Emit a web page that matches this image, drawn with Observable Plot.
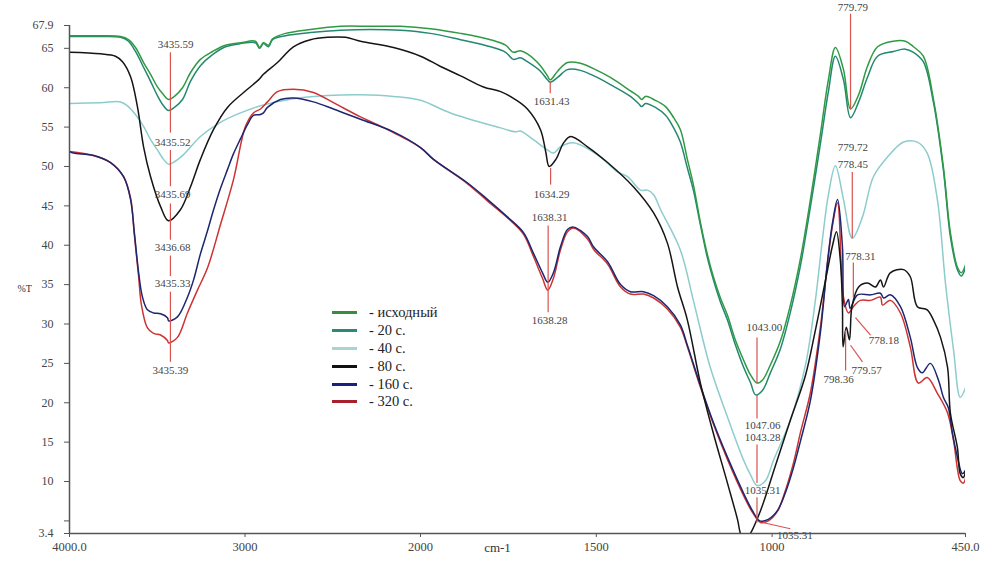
<!DOCTYPE html>
<html>
<head>
<meta charset="utf-8">
<script src="https://cdn.jsdelivr.net/npm/d3@7"></script>
<script src="https://cdn.jsdelivr.net/npm/@observablehq/plot@0.6"></script>
<style>
  html, body { margin: 0; padding: 0; background: #fff; overflow: hidden; }
  #wrap { position: relative; width: 985px; height: 566px; }
  #legend { position: absolute; left: 332px; top: 304px; font-family: "Times New Roman", "Liberation Serif", "DejaVu Serif", serif; font-size: 14.5px; color: #222; }
  #legend .row { display: flex; align-items: center; height: 17.8px; }
  #legend .sw { width: 25px; height: 3px; margin-right: 12px; }
</style>
</head>
<body>
<div id="wrap"><div id="legend"></div></div>
<script>
// ---- data: wavenumber (cm-1), transmittance (%T) ----
const seriesNames = ["- исходный", "- 20 с.", "- 40 с.", "- 80 с.", "- 160 с.", "- 320 с."];
const seriesColors = ["#2f9a44", "#23886f", "#8dcccc", "#151515", "#1d2670", "#cc3333"];
const legendColors = ["#3a8c3f", "#2a8a78", "#a8d4d4", "#111111", "#1a2080", "#a8202c"];

const sInitial = [[4000,66.6],[3823,66.6],[3709,66.5],[3664,66.1],[3624,65.1],[3578,63.2],[3538,61.7],[3499,60.1],[3464,59.1],[3436,58.5],[3402,58.9],[3356,60.0],[3311,61.9],[3254,63.6],[3185,64.6],[3111,65.4],[3026,65.7],[2940,65.9],[2917,65.1],[2895,65.7],[2866,65.4],[2843,66.2],[2769,66.9],[2627,67.4],[2456,67.8],[2285,67.8],[2114,67.8],[1972,67.5],[1886,66.9],[1801,66.1],[1758,65.4],[1736,64.5],[1716,64.7],[1696,64.3],[1659,62.8],[1639,61.5],[1631,61.0],[1610,62.1],[1582,63.2],[1545,63.1],[1502,62.3],[1460,61.3],[1403,59.6],[1380,58.9],[1371,58.5],[1360,58.9],[1332,58.4],[1303,57.6],[1280,56.2],[1261,54.7],[1241,50.9],[1224,47.7],[1204,42.9],[1184,38.8],[1167,36.0],[1147,33.3],[1127,31.1],[1104,27.9],[1081,25.4],[1061,23.5],[1043,22.5],[1027,22.9],[1005,24.8],[976,27.9],[948,32.4],[919,38.4],[891,45.8],[863,54.0],[840,61.0],[820,65.1],[797,62.3],[777,57.3],[754,59.1],[729,62.7],[700,65.2],[655,65.9],[621,65.9],[598,65.2],[570,64.0],[541,58.5],[513,50.0],[493,41.6],[473,37.2],[462,36.5],[450,37.5]];

const s20 = [[4000,66.5],[3823,66.5],[3709,66.4],[3664,65.9],[3624,64.6],[3578,62.6],[3538,60.8],[3499,59.0],[3464,57.7],[3436,57.1],[3402,57.5],[3356,58.5],[3311,60.8],[3254,62.8],[3185,64.2],[3111,65.2],[3026,65.6],[2940,65.7],[2917,65.0],[2895,65.6],[2866,65.2],[2843,66.1],[2769,66.6],[2627,67.0],[2456,67.3],[2285,67.4],[2114,67.3],[1972,66.9],[1886,66.1],[1801,65.2],[1758,64.5],[1736,63.6],[1716,63.8],[1696,63.3],[1659,62.1],[1639,61.0],[1631,60.7],[1610,61.3],[1582,62.3],[1545,62.2],[1502,61.4],[1460,60.4],[1403,58.9],[1380,58.0],[1371,57.6],[1360,58.0],[1332,57.5],[1303,56.5],[1280,54.9],[1261,53.1],[1241,49.8],[1224,47.0],[1204,42.6],[1184,38.4],[1167,35.6],[1147,32.8],[1127,30.5],[1104,27.3],[1081,24.5],[1061,22.5],[1047,21.0],[1027,21.6],[1005,23.8],[976,26.9],[948,31.5],[919,37.5],[891,44.9],[863,52.8],[840,59.5],[820,64.0],[797,61.0],[777,56.2],[754,58.2],[729,61.3],[700,64.0],[655,64.6],[621,64.9],[598,64.5],[570,63.3],[541,58.1],[513,49.6],[493,41.1],[473,36.9],[462,36.1],[450,37.1]];

const s40 = [[4000,58.0],[3823,58.1],[3709,58.2],[3670,57.7],[3624,56.6],[3578,55.1],[3538,53.4],[3499,52.1],[3464,50.9],[3436,50.3],[3402,50.6],[3350,51.5],[3254,53.8],[3140,55.6],[3026,56.8],[2912,57.7],[2724,58.6],[2530,59.0],[2342,59.1],[2154,58.9],[2000,58.4],[1915,56.8],[1772,54.9],[1730,54.4],[1716,54.5],[1679,53.4],[1639,52.1],[1622,51.7],[1602,52.5],[1565,53.0],[1488,51.2],[1440,49.3],[1411,48.7],[1374,47.0],[1354,47.0],[1337,46.4],[1317,44.5],[1261,39.4],[1224,33.0],[1176,24.5],[1127,18.2],[1081,12.7],[1061,10.8],[1043,9.5],[1019,10.1],[996,12.7],[948,17.8],[905,24.8],[877,33.0],[857,40.7],[840,46.4],[820,50.1],[797,45.8],[772,40.9],[743,43.6],[712,48.7],[672,51.2],[626,53.1],[587,53.1],[559,51.7],[530,45.8],[507,35.2],[484,26.7],[465,20.7],[450,21.9]];

const s80 = [[4000,64.5],[3823,64.3],[3738,64.0],[3698,63.3],[3652,61.4],[3613,57.6],[3578,52.5],[3538,48.7],[3481,44.9],[3436,43.1],[3368,44.5],[3311,47.4],[3254,50.9],[3179,54.7],[3100,57.5],[2986,59.8],[2923,61.0],[2895,61.7],[2815,63.2],[2724,65.2],[2627,66.1],[2530,66.4],[2427,66.4],[2342,65.9],[2154,65.1],[2000,64.0],[1943,62.7],[1886,61.5],[1821,60.1],[1772,59.5],[1730,58.5],[1696,57.3],[1659,54.7],[1644,51.9],[1634,50.0],[1615,50.9],[1593,53.0],[1573,53.8],[1525,52.5],[1468,50.5],[1394,47.4],[1337,44.1],[1298,40.3],[1269,34.7],[1241,30.5],[1204,22.5],[1167,16.1],[1127,9.8],[1098,5.1],[1090,3.4],[1078,2.5],[1067,3.0],[1033,6.3],[990,12.1],[948,17.8],[905,23.5],[877,29.2],[848,35.6],[828,40.0],[817,41.7],[806,38.1],[800,32.2],[798,27.1],[789,29.6],[780,28.0],[773,32.2],[754,34.7],[729,35.2],[706,34.7],[692,35.6],[683,34.7],[664,36.5],[626,36.9],[607,36.0],[587,32.2],[559,31.8],[541,30.5],[521,28.3],[501,24.5],[493,18.7],[473,14.3],[465,11.0],[456,10.5],[450,11.4]];

const s160 = [[4000,51.9],[3977,51.7],[3863,51.4],[3766,50.5],[3692,48.7],[3652,45.8],[3630,41.5],[3606,36.5],[3584,33.4],[3556,31.8],[3521,31.4],[3481,31.3],[3442,30.8],[3435,30.4],[3385,30.9],[3328,33.4],[3293,35.6],[3254,38.9],[3214,41.8],[3179,44.5],[3140,47.2],[3100,49.6],[3066,51.6],[3026,53.5],[2986,55.3],[2952,56.5],[2912,56.6],[2895,56.8],[2872,57.5],[2798,58.5],[2724,58.7],[2610,58.2],[2496,57.3],[2342,56.0],[2154,54.4],[2000,52.4],[1963,50.9],[1866,47.9],[1809,45.8],[1753,43.6],[1707,41.6],[1679,39.0],[1653,36.5],[1638,35.3],[1622,36.5],[1602,39.8],[1582,42.0],[1565,42.3],[1525,41.1],[1508,39.8],[1468,37.9],[1431,35.0],[1403,34.1],[1366,34.1],[1337,33.6],[1298,32.2],[1261,29.9],[1241,27.3],[1204,22.2],[1167,17.5],[1127,13.1],[1081,8.5],[1056,6.3],[1035,5.0],[1011,5.2],[985,6.3],[962,8.6],[939,11.8],[919,15.2],[891,20.3],[863,28.8],[842,38.1],[828,42.9],[814,45.8],[800,39.8],[794,32.2],[783,33.1],[778,32.0],[757,33.7],[720,33.7],[692,33.9],[683,33.3],[664,33.7],[635,32.2],[607,28.3],[587,24.5],[573,23.8],[550,25.0],[527,22.9],[513,20.7],[499,19.4],[487,16.1],[473,13.1],[459,11.0],[450,11.4]];

const s320 = [[4000,51.9],[3863,51.4],[3766,50.5],[3692,48.7],[3652,46.0],[3630,41.2],[3606,36.0],[3590,32.4],[3556,29.5],[3521,28.8],[3481,28.6],[3442,27.9],[3435,27.6],[3385,28.3],[3328,31.4],[3271,34.3],[3214,37.1],[3140,42.6],[3066,48.3],[2997,55.1],[2952,56.8],[2912,57.3],[2872,58.2],[2815,59.5],[2724,59.8],[2610,59.4],[2496,58.1],[2342,56.3],[2245,55.3],[2154,54.3],[2000,52.4],[1963,50.9],[1866,47.8],[1809,45.6],[1753,43.5],[1707,41.4],[1679,38.6],[1653,35.8],[1638,34.3],[1622,35.8],[1602,39.4],[1582,41.7],[1565,42.2],[1525,40.8],[1508,39.5],[1468,37.6],[1431,34.7],[1403,33.8],[1366,33.8],[1337,33.3],[1298,31.9],[1261,29.6],[1241,27.1],[1204,22.0],[1167,17.3],[1127,12.8],[1081,8.2],[1056,6.1],[1033,4.8],[1011,5.0],[985,6.2],[962,8.9],[939,12.4],[919,16.3],[891,21.3],[863,29.5],[842,37.9],[828,42.6],[814,45.4],[797,33.4],[783,31.4],[769,32.2],[749,33.0],[720,33.0],[692,33.4],[686,32.4],[664,33.0],[635,31.4],[607,27.1],[584,22.5],[559,23.2],[530,21.2],[501,18.7],[484,15.2],[465,10.1],[456,9.8],[450,10.4]];

const allSeries = [s40, s20, sInitial, s320, s160, s80];
const drawColors = [seriesColors[2], seriesColors[1], seriesColors[0], seriesColors[5], seriesColors[4], seriesColors[3]];

// axis ticks
const wnTicks = [4000, 3000, 2000, 1500, 1000, 450];
const wnTickLabels = ["4000.0", "3000", "2000", "1500", "1000", "450.0"];
const tTicks = [3.4, 5, 10, 15, 20, 25, 30, 35, 40, 45, 50, 55, 60, 65, 67.9];
const tTickLabels = ["3.4", "", "10", "15", "20", "25", "30", "35", "40", "45", "50", "55", "60", "65", "67.9"];

// peak annotations (wavenumber, %T)
const peakLabels = [
  ["3435.59", 3396, 65.5], ["3435.52", 3413, 53.1], ["3435.69", 3413, 46.4], ["3436.68", 3413, 39.7],
  ["3435.33", 3413, 35.1], ["3435.39", 3425, 24.1],
  ["1631.43", 1627, 58.2], ["1634.29", 1627, 46.4], ["1638.31", 1633, 43.5], ["1638.28", 1633, 30.5],
  ["779.79", 770, 70.2], ["779.72", 770, 52.4], ["778.45", 770, 50.2], ["778.31", 749, 38.6],
  ["778.18", 682, 27.9], ["779.57", 731, 24.1], ["798.36", 811, 22.9],
  ["1043.00", 1022, 29.6], ["1047.06", 1027, 17.1], ["1043.28", 1027, 15.6], ["1035.31", 1027, 8.9],
  ["1035.31", 935, 3.1]
];
const peakLines = [
  [3425, 64.5, 3425, 54.3], [3425, 52.1, 3425, 47.5], [3425, 45.3, 3425, 40.7],
  [3425, 38.7, 3425, 36.1], [3425, 34.1, 3425, 25.2],
  [1631, 60.8, 1631, 59.3], [1630, 49.8, 1630, 47.7], [1637, 42.5, 1637, 31.5],
  [777, 69.4, 777, 57.3], [772, 49.3, 772, 40.9], [769, 37.8, 769, 33.4],
  [763, 30.8, 720, 28.6], [777, 27.3, 743, 25.2], [791, 29.2, 791, 24.1],
  [1043, 28.3, 1043, 22.5], [1043, 21.0, 1043, 18.0], [1043, 14.7, 1043, 9.8], [1043, 8.0, 1043, 4.8],
  [1027, 4.8, 948, 4.0]
];

// ---- chart ----
const serif = "Times New Roman, Liberation Serif, DejaVu Serif, serif";
const marks = [];
allSeries.forEach((s, i) => {
  marks.push(Plot.line(s, {x: d => d[0], y: d => d[1], stroke: drawColors[i], strokeWidth: 1.5, curve: "catmull-rom", clip: true}));
});
marks.push(
  Plot.link(peakLines, {x1: d => d[0], y1: d => d[1], x2: d => d[2], y2: d => d[3], stroke: "#d9534f", strokeWidth: 1.2}),
  Plot.text(peakLabels, {x: d => d[1], y: d => d[2], text: d => d[0], fill: "#444", fontSize: 11, fontFamily: serif, letterSpacing: "0.5px"}),
  Plot.ruleX([4000], {y1: 3.4, y2: 67.9, stroke: "#555", strokeWidth: 1.5}),
  Plot.ruleY([3.4], {x1: 4000, x2: 450, stroke: "#555", strokeWidth: 1.5}),
  Plot.axisY({ticks: tTicks, tickFormat: (d) => tTickLabels[tTicks.indexOf(d)], tickSize: 5, tickPadding: 11, fontSize: 12, fontFamily: serif, fill: "#444", stroke: "#555", label: null}),
  Plot.axisX({ticks: wnTicks, tickFormat: d => wnTickLabels[wnTicks.indexOf(d)], tickSize: 4, tickPadding: 5, fontSize: 12.5, fontFamily: serif, fill: "#444", stroke: "#555", label: null}),
  Plot.text(["cm-1"], {frameAnchor: "bottom", dx: -20, dy: 18, fontSize: 13, fill: "#333", fontFamily: serif}),
  Plot.text(["%T"], {frameAnchor: "left", dx: -52, dy: 9, fontSize: 10, fill: "#333", fontFamily: serif})
);

const chart = Plot.plot({
  width: 985,
  height: 566,
  marginTop: 25,
  marginBottom: 33,
  marginLeft: 69,
  marginRight: 20,
  style: {fontFamily: serif, background: "white", color: "#444"},
  x: {type: "linear", domain: [4000, 2000, 450], range: [69, 420, 965]},
  y: {type: "linear", domain: [3.4, 67.9], range: [533, 25]},
  marks
});
document.getElementById("wrap").prepend(chart);

// legend
const legend = document.getElementById("legend");
seriesNames.forEach((name, i) => {
  const row = document.createElement("div");
  row.className = "row";
  const sw = document.createElement("span");
  sw.className = "sw";
  sw.style.background = legendColors[i];
  const t = document.createElement("span");
  t.textContent = name;
  row.appendChild(sw); row.appendChild(t);
  legend.appendChild(row);
});
</script>
</body>
</html>
